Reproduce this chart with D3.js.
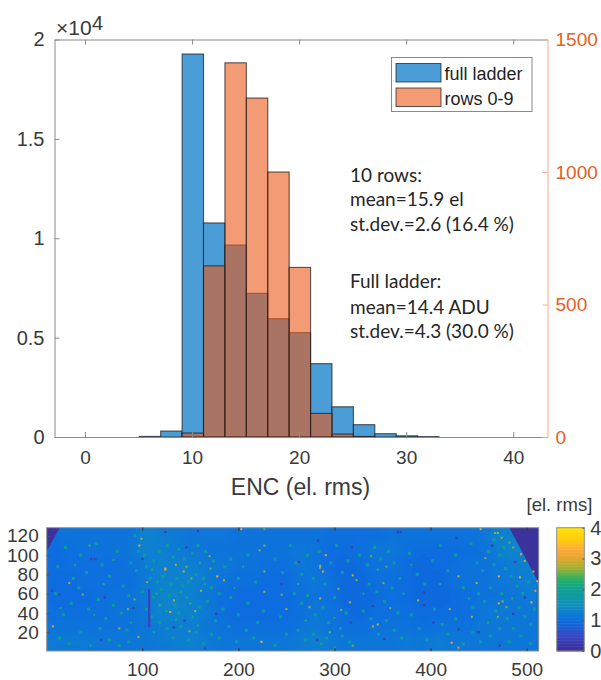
<!DOCTYPE html>
<html>
<head>
<meta charset="utf-8">
<script src="https://cdn.jsdelivr.net/npm/d3@7"></script>
<style>
  html, body { margin: 0; padding: 0; background: #fff; }
  svg { display: block; font-family: "Liberation Sans", Arial, sans-serif; }
</style>
</head>
<body>
<div id="vis"></div>
<script>
// Histogram data
const binEdges = [5.07, 7.07, 9.07, 11.07, 13.07, 15.07, 17.07, 19.07, 21.07, 23.07, 25.07, 27.07, 29.07, 31.07, 33.07];
const fullLadder = [30, 300, 19270, 10770, 9660, 7230, 5950, 5250, 3690, 1520, 620, 166, 60, 20];
const rows09 = [0, 0, 15, 646, 1412, 1279, 1000, 640, 89, 11, 2, 0, 0, 0];

const xTicks = [0, 10, 20, 30, 40];
const yLeftTicks = [0, 0.5, 1, 1.5, 2];
const yRightTicks = [0, 500, 1000, 1500];
const seriesNames = ["full ladder", "rows 0-9"];

const notes = [
  ["10 rows:", 181.5],
  ["mean=15.9 el", 206],
  ["st.dev.=2.6 (16.4 %)", 230.5],
  ["Full ladder:", 288],
  ["mean=14.4 ADU", 314],
  ["st.dev.=4.3 (30.0 %)", 338],
];

// Heat map: mean level per block of 16 x 16 pixels, top row first
const heatBlocks = [
  [1.25,1.3,1.3,1.3,1.3,1.3,1.55,1.45,1.4,1.35,1.35,1.35,1.3,1.3,1.3,1.3,1.3,1.3,1.25,1.25,1.25,1.25,1.3,1.3,1.3,1.3,1.3,1.3,1.35,1.55,1.5,1.3],
  [1.2,1.25,1.3,1.3,1.3,1.35,1.5,1.45,1.4,1.35,1.3,1.3,1.3,1.3,1.3,1.3,1.35,1.3,1.2,1.2,1.25,1.35,1.35,1.25,1.2,1.2,1.2,1.25,1.3,1.45,1.55,1.5],
  [1.2,1.25,1.25,1.25,1.25,1.3,1.4,1.5,1.5,1.45,1.4,1.35,1.3,1.3,1.25,1.25,1.35,1.3,1.2,1.15,1.2,1.3,1.3,1.2,1.15,1.2,1.25,1.3,1.3,1.35,1.45,1.5],
  [1.2,1.2,1.25,1.25,1.25,1.25,1.4,1.5,1.5,1.5,1.4,1.3,1.25,1.25,1.2,1.2,1.3,1.35,1.25,1.15,1.15,1.25,1.25,1.2,1.15,1.15,1.25,1.3,1.3,1.35,1.4,1.45],
  [1.2,1.2,1.2,1.25,1.3,1.3,1.4,1.55,1.55,1.45,1.35,1.25,1.2,1.2,1.2,1.2,1.25,1.3,1.25,1.15,1.15,1.2,1.25,1.2,1.15,1.15,1.2,1.25,1.3,1.3,1.35,1.4],
  [1.25,1.25,1.25,1.25,1.3,1.3,1.35,1.55,1.55,1.5,1.4,1.25,1.2,1.2,1.2,1.2,1.25,1.35,1.3,1.2,1.15,1.25,1.25,1.25,1.2,1.2,1.2,1.25,1.35,1.4,1.35,1.35],
  [1.3,1.3,1.3,1.3,1.3,1.3,1.35,1.4,1.45,1.45,1.35,1.3,1.25,1.25,1.25,1.25,1.3,1.4,1.3,1.25,1.25,1.3,1.3,1.3,1.25,1.3,1.3,1.3,1.35,1.35,1.35,1.35],
  [1.4,1.4,1.4,1.35,1.35,1.35,1.35,1.4,1.45,1.5,1.4,1.35,1.35,1.35,1.35,1.35,1.4,1.5,1.4,1.35,1.35,1.35,1.35,1.4,1.35,1.45,1.35,1.35,1.35,1.35,1.35,1.35],
];

// Single pixels that stand out: [column, row, level]
const hotPixels = [
  [99,117,2.8],[97,110,3],[124,86,3.2],[24,71,2.8],[38,59,2.6],[7,26,3],[105,72,2.6],[76,24,2.7],[96,15,2.7],[85,44,2.6],
  [92,54,2.6],[45,110,2.4],[124,85,3],[143,83,2.9],[178,78,3.3],[151,76,2.6],[185,74,2.7],[146,88,2.6],[135,90,2.7],[129,41,3],
  [133,53,2.8],[155,42,2.8],[149,21,2.6],[224,10,3.3],[245,59,2.6],[250,44,2.7],[222,105,2.6],[227,110,2.6],[227,83,2.6],[227,62,2.7],
  [170,99,2.6],[171,86,2.5],[161,63,2.7],[203,127,3],[227,127,2.5],[291,100,3],[285,89,2.7],[285,87,2.8],[288,83,3],[319,79,2.9],
  [323,74,2.6],[304,65,2.7],[285,55,2.8],[316,51,2.8],[387,53,2.8],[351,71,2.6],[358,45,2.6],[345,28,3],[340,26,2.8],[338,99,2.5],
  [354,88,2.5],[307,43,2.6],[274,46,2.8],[295,20,2.6],[319,6,2.6],[471,78,3.2],[429,78,2.8],[448,71,2.8],[471,50,2.9],[505,51,3.2],
  [494,101,3],[498,94,2.9],[493,77,3],[507,83,2.9],[509,63,2.8],[470,123,2.7],[474,118,2.6],[482,113,2.6],[486,108,2.6],[467,123,2.7],
  [452,127,3],[475,52,2.7],[479,46,2.6],[470,36,2.6],[422,9,3],[429,4,2.8],[420,44,2.7],[443,36,2.7],[457,97,2.6],[511,73,2.9],
  [110,85,2.3],[115,60,2.3],[118,48,2.4],[125,42,2.3],[140,62,2.3],[150,50,2.4],[160,92,2.3],[165,70,2.2],[196,66,2.2],[205,88,2.2],
  [60,70,2.2],[70,95,2.2],[30,90,2.1],[15,45,2.2],[50,38,2.2],[88,30,2.2],[112,20,2.2],[135,33,2.3],[158,27,2.2],[262,70,2.2],
  [270,32,2.3],[300,35,2.2],[330,60,2.2],[345,85,2.3],[372,60,2.2],[380,90,2.2],[410,70,2.2],[440,55,2.2],[460,30,2.3],[485,55,2.3],
];

// Faint greenish grain, estimated by eye: [column, row]
const grainPixels = [
  [92,120],[96,104],[102,100],[88,92],[94,84],[104,88],[112,94],[118,104],[126,110],[132,98],[138,106],[144,96],[152,102],[158,110],[166,104],[174,94],
  [108,76],[116,72],[122,78],[130,70],[136,76],[142,68],[148,72],[156,80],[164,76],[172,66],[180,60],[186,88],[192,96],[200,76],[210,100],[218,72],
  [100,62],[112,56],[120,64],[128,58],[134,48],[138,40],[146,56],[152,36],[160,46],[168,52],[176,32],[184,44],[192,56],[200,38],[210,50],[220,30],
  [104,44],[110,36],[118,30],[126,24],[132,14],[140,26],[148,12],[156,20],[164,8],[172,18],[180,14],[190,26],[198,10],[208,22],[216,14],[226,42],
  [12,88],[20,108],[28,76],[36,100],[42,82],[52,112],[58,90],[66,78],[74,104],[80,68],[86,58],[10,60],[18,38],[26,50],[34,66],[44,44],
  [54,54],[62,34],[70,48],[78,40],[84,22],[14,14],[24,8],[36,20],[46,6],[56,24],[66,12],[76,6],[86,10],[238,96],[246,82],[254,110],
  [260,92],[266,80],[272,100],[278,76],[284,104],[290,70],[296,92],[302,110],[308,82],[314,94],[258,60],[266,50],[272,58],[280,38],[288,46],[294,30],
  [300,56],[306,24],[312,40],[262,22],[270,12],[278,18],[286,8],[292,14],[300,4],[308,16],[316,10],[244,36],[250,18],[238,6],[326,100],[334,90],
  [342,108],[348,96],[356,104],[362,92],[368,76],[336,70],[344,62],[352,52],[360,66],[366,40],[330,42],[338,34],[346,18],[354,32],[362,22],[370,14],
  [378,102],[386,80],[394,70],[402,94],[410,110],[418,84],[426,100],[434,66],[380,38],[388,24],[396,12],[404,44],[412,28],[418,18],[426,34],[434,8],
  [442,112],[448,92],[454,84],[460,104],[466,90],[472,100],[478,86],[484,78],[490,68],[496,60],[502,72],[444,46],[450,60],[456,52],[462,66],[468,42],
  [474,60],[480,34],[486,24],[492,46],[498,36],[504,28],[508,44],[444,20],[452,10],[462,16],[472,24],[482,10],[494,16],[504,8],[476,108],[466,116],
];

const coldPixels = [
  [47,96],[51,96],[14,59],[61,56],[6,63],[57,12],[100,96],[91,45],[146,108],[165,3],[245,70],[177,39],[158,125],[124,124],
  [283,115],[318,108],[366,124],[369,124],[317,30],[263,93],[282,12],[352,13],[340,47],[486,39],[498,56],[488,93],[464,110],
  [393,61],[393,48],[427,118],[429,23],[450,20],[403,30],[472,6],[144,32],[133,25],
];

const deadColumn = { column: 107, rows: [25, 65], level: 0.4 };
const cornerLeft = [[0.5,128.5],[14,128.5],[0.5,104]];
const cornerRight = [[482,128.5],[512.5,128.5],[512.5,71]];

const heatXTicks = [100, 200, 300, 400, 500];
const heatYTicks = [20, 40, 60, 80, 100, 120];
const colorTicks = [0, 1, 2, 3, 4];
const colorLevels = [0, 0.5, 1, 1.5, 2, 2.3, 2.7, 3, 3.3, 3.6, 4];
const colorValues = ["#3a2a90", "#3a48c4", "#0a6ee0", "#1190c0", "#10a090", "#1cb06c", "#a0b030", "#e0a830", "#ffa83c", "#ffcc10", "#ffe000"];

const svg = d3.select("#vis").append("svg").attr("width", 601).attr("height", 680);
const defs = svg.append("defs");

// Skalaer til histogrammet
const x = d3.scaleLinear().domain([-2.85, 43.2]).range([54.5, 547.5]);
const yLeft = d3.scaleLinear().domain([0, 2]).range([437, 39.5]);
const yRight = d3.scaleLinear().domain([0, 1500]).range([437, 39.5]);

function drawBars(values, yScale, fill, opacity) {
  svg.append("g")
    .selectAll("rect")
    .data(values.map((v, i) => ({ v: v, a: binEdges[i], b: binEdges[i + 1] })).filter((d) => d.v > 0))
    .enter()
    .append("rect")
    .attr("x", (d) => x(d.a))
    .attr("y", (d) => yScale(d.v))
    .attr("width", (d) => x(d.b) - x(d.a))
    .attr("height", (d) => yScale(0) - yScale(d.v))
    .attr("fill", fill)
    .attr("fill-opacity", opacity)
    .attr("stroke", "#1c1c1c")
    .attr("stroke-opacity", 0.72)
    .attr("stroke-width", 1.1);
}

drawBars(fullLadder.map((d) => d / 10000), yLeft, "#4a9dd6", 1);
drawBars(rows09, yRight, "rgb(233,88,23)", 0.6);

// Akser
function styleAxis(g, color) {
  g.select(".domain").attr("stroke", color).attr("stroke-width", 1);
  g.selectAll(".tick line").attr("stroke", color);
  g.selectAll(".tick text").attr("fill", color === "#f7ab8c" ? "#e8601e" : "#3a3a3a");
}

const axisBottom = svg.append("g").attr("transform", "translate(0,437)")
  .call(d3.axisBottom(x).tickValues(xTicks).tickSizeInner(-5).tickSizeOuter(0).tickPadding(13));
styleAxis(axisBottom, "#8a8a8a");
axisBottom.style("font-size", "19px");
axisBottom.selectAll(".tick text").attr("dy", "0.72em");

const axisTop = svg.append("g").attr("transform", "translate(0,39.5)")
  .call(d3.axisTop(x).tickValues(xTicks).tickSizeInner(-5).tickSizeOuter(0).tickFormat(""));
styleAxis(axisTop, "#8a8a8a");

const axisLeft = svg.append("g").attr("transform", "translate(54.5,0)")
  .call(d3.axisLeft(yLeft).tickValues(yLeftTicks).tickSizeInner(-5).tickSizeOuter(0).tickPadding(10).tickFormat((d) => d));
styleAxis(axisLeft, "#8a8a8a");
axisLeft.style("font-size", "20px");

const axisRight = svg.append("g").attr("transform", "translate(547.5,0)")
  .call(d3.axisRight(yRight).tickValues(yRightTicks).tickSizeInner(-5).tickSizeOuter(0).tickPadding(8).tickFormat((d) => d));
styleAxis(axisRight, "#f7ab8c");
axisRight.style("font-size", "19px");

svg.append("text").attr("x", 56).attr("y", 35).attr("font-size", 21).attr("fill", "#3a3a3a").text("×10");
svg.append("text").attr("x", 92).attr("y", 30).attr("font-size", 20).attr("fill", "#3a3a3a").text("4");

svg.append("text")
  .attr("x", 300.5).attr("y", 495)
  .attr("text-anchor", "middle")
  .attr("font-size", 23)
  .attr("fill", "#3a3a3a")
  .text("ENC (el. rms)");

// Legend
svg.append("rect").attr("x", 391.5).attr("y", 57.5).attr("width", 140.5).attr("height", 54)
  .attr("fill", "#fff").attr("stroke", "#8a8a8a");
const legendRows = [["#4a9dd6", 63.5, 80], ["#f29b74", 88, 105]];
legendRows.forEach((row, i) => {
  svg.append("rect").attr("x", 396).attr("y", row[1]).attr("width", 45).attr("height", 18.5)
    .attr("fill", row[0]).attr("stroke", "#1c1c1c").attr("stroke-opacity", 0.72);
  svg.append("text").attr("x", 444.5).attr("y", row[2]).attr("font-size", 18).attr("fill", "#1f1f1f").text(seriesNames[i]);
});

// Tekst i plottet
svg.append("g").selectAll("text").data(notes).enter().append("text")
  .attr("x", 350)
  .attr("y", (d) => d[1])
  .attr("font-family", "Lato, sans-serif")
  .attr("font-size", 19)
  .attr("fill", "#262626")
  .text((d) => d[0]);

// Heat map
const heatX = d3.scaleLinear().domain([0.5, 512.5]).range([46.7, 538.7]);
const heatY = d3.scaleLinear().domain([0.5, 128.5]).range([651, 527.7]);
const heatColor = d3.scaleLinear().domain(colorLevels).range(colorValues);
const blockShift = 0.22; // blokkene stod for groenne i forhold til originalen

defs.append("clipPath").attr("id", "heatClip").append("rect")
  .attr("x", heatX(0.5)).attr("y", heatY(128.5))
  .attr("width", heatX(512.5) - heatX(0.5)).attr("height", heatY(0.5) - heatY(128.5));
defs.append("filter").attr("id", "wide").attr("x", "-10%").attr("y", "-10%").attr("width", "120%").attr("height", "120%")
  .append("feGaussianBlur").attr("stdDeviation", 5);
defs.append("filter").attr("id", "soft").attr("x", "-5%").attr("y", "-5%").attr("width", "110%").attr("height", "110%")
  .append("feGaussianBlur").attr("stdDeviation", 0.6);

const heat = svg.append("g").attr("clip-path", "url(#heatClip)");
heat.append("rect")
  .attr("x", heatX(0.5)).attr("y", heatY(128.5))
  .attr("width", heatX(512.5) - heatX(0.5)).attr("height", heatY(0.5) - heatY(128.5))
  .attr("fill", heatColor(1.3 - blockShift));

const blockCells = [];
heatBlocks.forEach((row, r) => row.forEach((v, c) => blockCells.push({ r: r, c: c, v: v })));
heat.append("g").attr("filter", "url(#wide)")
  .selectAll("rect").data(blockCells).enter().append("rect")
  .attr("x", (d) => heatX(0.5 + d.c * 16) - 0.5)
  .attr("y", (d) => heatY(128.5 - d.r * 16) - 0.5)
  .attr("width", heatX(16.5) - heatX(0.5) + 1)
  .attr("height", heatY(0.5) - heatY(16.5) + 1)
  .attr("fill", (d) => heatColor(d.v - blockShift));

const fine = heat.append("g").attr("filter", "url(#soft)");
const cornerLine = d3.line().x((d) => heatX(d[0])).y((d) => heatY(d[1]));
[cornerLeft, cornerRight].forEach((corner) => {
  fine.append("path").attr("d", cornerLine(corner) + "Z").attr("fill", heatColor(0.12));
});
fine.selectAll(".grain").data(grainPixels).enter().append("rect").attr("class", "grain")
  .attr("x", (d) => heatX(d[0]) - 1.5).attr("y", (d) => heatY(d[1]) - 1.5)
  .attr("width", 3).attr("height", 3)
  .attr("fill", heatColor(1.8));
fine.selectAll(".hot").data(hotPixels).enter().append("rect").attr("class", "hot")
  .attr("x", (d) => heatX(d[0]) - 1).attr("y", (d) => heatY(d[1]) - 1)
  .attr("width", 2).attr("height", 2)
  .attr("fill", (d) => heatColor(d[2]));
fine.selectAll(".cold").data(coldPixels).enter().append("rect").attr("class", "cold")
  .attr("x", (d) => heatX(d[0]) - 1.2).attr("y", (d) => heatY(d[1]) - 1.2)
  .attr("width", 2.4).attr("height", 2.4)
  .attr("fill", heatColor(0.35));
fine.append("rect")
  .attr("x", heatX(deadColumn.column) - 1).attr("y", heatY(deadColumn.rows[1]))
  .attr("width", 2.2).attr("height", heatY(deadColumn.rows[0]) - heatY(deadColumn.rows[1]))
  .attr("fill", heatColor(deadColumn.level));

svg.append("rect")
  .attr("x", heatX(0.5)).attr("y", heatY(128.5))
  .attr("width", heatX(512.5) - heatX(0.5)).attr("height", heatY(0.5) - heatY(128.5))
  .attr("fill", "none").attr("stroke", "#8f8f8f");

const heatBottom = svg.append("g").attr("transform", "translate(0,651)")
  .call(d3.axisBottom(heatX).tickValues(heatXTicks).tickSizeInner(-3).tickSizeOuter(0).tickPadding(11));
heatBottom.select(".domain").remove();
heatBottom.selectAll(".tick line").attr("stroke", "#333");
heatBottom.selectAll(".tick text").attr("fill", "#3a3a3a").attr("dy", "0.72em");
heatBottom.style("font-size", "19px");

const heatTop = svg.append("g").attr("transform", "translate(0,527.7)")
  .call(d3.axisTop(heatX).tickValues(heatXTicks).tickSizeInner(-3).tickSizeOuter(0).tickFormat(""));
heatTop.select(".domain").remove();
heatTop.selectAll(".tick line").attr("stroke", "#333");

const heatLeft = svg.append("g").attr("transform", "translate(46.7,0)")
  .call(d3.axisLeft(heatY).tickValues(heatYTicks).tickSizeInner(-3).tickSizeOuter(0).tickPadding(8));
heatLeft.select(".domain").remove();
heatLeft.selectAll(".tick line").attr("stroke", "#555");
heatLeft.selectAll(".tick text").attr("fill", "#3a3a3a");
heatLeft.style("font-size", "19px");

// Farveskala
const barY = d3.scaleLinear().domain([0, 4]).range([651, 527.7]);
const barBands = d3.range(0, 4, 0.05);
svg.append("g").selectAll("rect").data(barBands).enter().append("rect")
  .attr("x", 556.7)
  .attr("y", (d) => barY(d + 0.05))
  .attr("width", 27.6)
  .attr("height", barY(0) - barY(0.05) + 0.5)
  .attr("fill", (d) => heatColor(d + 0.025));
svg.append("rect").attr("x", 556.7).attr("y", 527.7).attr("width", 27.6).attr("height", 123.3)
  .attr("fill", "none").attr("stroke", "#8f8f8f");

const barAxis = svg.append("g").attr("transform", "translate(584.3,0)")
  .call(d3.axisRight(barY).tickValues(colorTicks).tickSizeInner(-2).tickSizeOuter(0).tickPadding(6).tickFormat((d) => d));
barAxis.select(".domain").remove();
barAxis.selectAll(".tick line").attr("stroke", "#555");
barAxis.selectAll(".tick text").attr("fill", "#3a3a3a");
barAxis.style("font-size", "20px");

svg.append("text").attr("x", 526.5).attr("y", 511).attr("font-size", 18.5).attr("fill", "#3a3a3a").text("[el. rms]");
</script>
</body>
</html>
